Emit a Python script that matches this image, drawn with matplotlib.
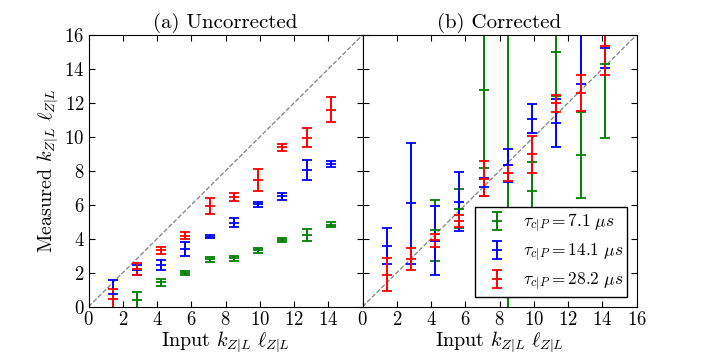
import numpy as np
import matplotlib
matplotlib.use("Agg")
import matplotlib.pyplot as plt

plt.rcParams.update({
    "font.family": "serif",
    "font.serif": ["cmr10"],
    "mathtext.fontset": "cm",
    "axes.formatter.use_mathtext": True,
    "font.size": 13,
})

# input k*l (multiples of sqrt(2))
x_in = np.array([1.41, 2.83, 4.24, 5.66, 7.07, 8.49, 9.90, 11.31, 12.73, 14.14])

labels = [r"$\tau_{c|P} = 7.1\ \mu s$",
          r"$\tau_{c|P} = 14.1\ \mu s$",
          r"$\tau_{c|P} = 28.2\ \mu s$"]
colors = ["g", "b", "r"]

# (a) uncorrected
unc_green = [np.nan, 0.39, 1.44, 1.99, 2.78, 2.85, 3.31, 3.92, 4.23, 4.84]
unc_green_err = [np.nan, 0.50, 0.21, 0.12, 0.12, 0.15, 0.17, 0.10, 0.35, 0.12]
unc_blue = [0.75, 2.15, 2.46, 3.39, 4.13, 4.94, 6.02, 6.50, 8.03, 8.39]
unc_blue_err = [0.82, 0.30, 0.30, 0.40, 0.10, 0.27, 0.13, 0.22, 0.59, 0.17]
unc_red = [0.45, 2.22, 3.31, 4.19, 5.93, 6.46, 7.44, 9.39, 9.96, 11.61]
unc_red_err = [0.60, 0.33, 0.22, 0.18, 0.50, 0.26, 0.65, 0.22, 0.55, 0.72]

# (b) corrected
cor_green = [np.nan, np.nan, 4.49, 5.77, 12.75, 2.50, 6.83, 15.02, 8.92, 14.27]
cor_green_err = [np.nan, np.nan, 1.77, 1.14, 4.60, 14.0, 1.69, 2.60, 2.52, 4.31]
cor_blue = [3.56, 6.08, 3.88, 6.18, 7.05, 8.32, 11.08, 10.82, 17.00, 15.21]
cor_blue_err = [1.07, 3.58, 2.03, 1.75, 0.55, 0.95, 0.87, 1.42, 3.86, 1.18]
cor_red = [1.89, 2.81, 3.90, 5.04, 7.54, 7.87, 8.97, 11.98, 12.59, 15.35]
cor_red_err = [0.95, 0.62, 0.36, 0.36, 1.05, 0.47, 1.08, 0.50, 1.04, 1.71]

uncorrected = [(unc_green, unc_green_err), (unc_blue, unc_blue_err), (unc_red, unc_red_err)]
corrected = [(cor_green, cor_green_err), (cor_blue, cor_blue_err), (cor_red, cor_red_err)]

fig = plt.figure(figsize=(7.06, 3.53), dpi=100)
ax1 = fig.add_axes([0.1254, 0.1312, 0.3881, 0.7696])
ax2 = fig.add_axes([0.5135, 0.1312, 0.3881, 0.7696])


def draw_panel(ax, series, title):
    ax.plot([0, 16], [0, 16], "--", color="gray", linewidth=0.9, zorder=1)
    for (y, yerr), c, lab in zip(series, colors, labels):
        ax.errorbar(x_in, y, yerr=yerr, fmt="_", color=c, ecolor=c,
                    markersize=7, markeredgewidth=1.3, elinewidth=1.4,
                    capsize=3.5, capthick=1.3, label=lab, zorder=2)
    ax.set_xlim(0, 16)
    ax.set_ylim(0, 16)
    ax.set_title(title, fontsize=15, pad=5)
    ax.set_xlabel(r"Input $k_{Z|L}\ \ell_{Z|L}$", fontsize=14.5, labelpad=0)
    ax.tick_params(direction="in", top=True, right=True, length=4,
                   labelsize=13.5, pad=3)


draw_panel(ax1, uncorrected, "(a) Uncorrected")
draw_panel(ax2, corrected, "(b) Corrected")

ax1.set_xticks(np.arange(0, 15, 2))
ax2.set_xticks(np.arange(0, 17, 2))
ax1.set_yticks(np.arange(0, 17, 2))
ax2.set_yticks(np.arange(0, 17, 2))
ax2.set_yticklabels([])
ax1.set_ylabel(r"Measured $k_{Z|L}\ \ell_{Z|L}$", fontsize=14.5, labelpad=3)

leg = ax2.legend(loc="lower right", fontsize=12.5, fancybox=False, framealpha=1,
                 edgecolor="black", borderaxespad=0.53, handlelength=2.0,
                 handletextpad=0.5, labelspacing=0.4, borderpad=0.25)
leg.get_frame().set_linewidth(1.0)

fig.savefig("out.png", dpi=100)
